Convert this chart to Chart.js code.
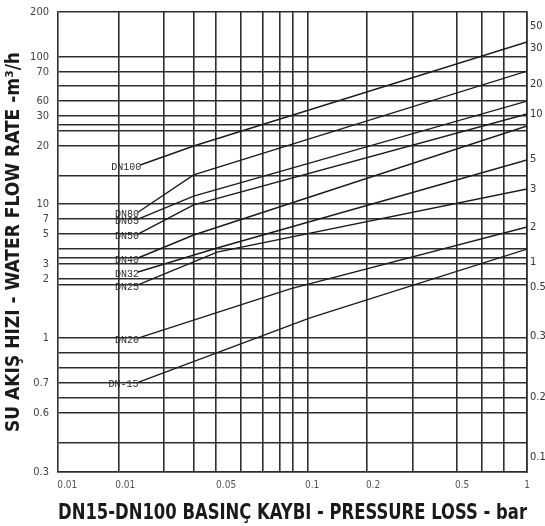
<!DOCTYPE html>
<html lang="tr">
<head>
<meta charset="UTF-8">
<title>DN15-DN100 Pressure Loss</title>
<script src="https://cdn.jsdelivr.net/npm/chart.js"></script>
<style>
    body { margin: 0; background: #fff; }
    canvas { display: block; }
</style>
</head>
<body>
<canvas id="chart" width="545" height="526"></canvas>
<script>
    // pipe sizes, one line each
    const lineNames = ['DN100', 'DN80', 'DN65', 'DN50', 'DN40', 'DN32', 'DN25', 'DN20', 'DN-15'];

    // pressure loss (bar) at start, bend, end of each line
    const pressureLoss = [
        [0.0171, 0.030, 1],
        [0.0167, 0.030, 1],
        [0.0167, 0.030, 1],
        [0.0167, 0.030, 1],
        [0.0167, 0.030, 1],
        [0.0167, 0.0384, 1],
        [0.0167, 0.0384, 1],
        [0.0167, 0.0828, 1],
        [0.0166, 0.1021, 1]
    ];

    // flow rate (m3/h) for the same points
    const flowRate = [
        [23.0, 30.1, 130.8],
        [11.8, 20.0, 86.8],
        [10.7, 14.8, 56.8],
        [8.67, 13.1, 47.3],
        [6.18, 8.55, 39.9],
        [5.07, 7.12, 24.7],
        [4.22, 6.72, 16.4],
        [1.99, 3.99, 9.57],
        [1.06, 2.65, 7.01]
    ];

    // grid lines as drawn on the sheet
    const xGridVals = [0.0136, 0.0218, 0.030, 0.038, 0.049, 0.062, 0.074, 0.085, 0.1, 0.186, 0.30, 0.48, 0.62, 0.785, 1];
    const yGridVals = [200, 105.8, 85.6, 70.3, 56.8, 46.0, 40.5, 37.2, 30.1, 19.7, 13.3, 10.7, 8.67, 7.02,
        6.18, 5.67, 4.59, 4.22, 1.99, 1.61, 1.30, 1.055, 0.854, 0.691, 0.452, 0.3];
    const yLeftText = ['200', '100', '70', '', '60', '30', '', '', '20', '', '10', '7', '5', '',
        '', '3', '2', '', '1', '', '', '0.7', '', '0.6', '', '0.3'];

    // bottom labels (they sit off the grid lines)
    const xTickVals = [0.00793, 0.0146, 0.0422, 0.1043, 0.198, 0.505, 1];
    const xTickText = ['0.01', '0.01', '0.05', '0.1', '0.2', '0.5', '1'];

    // right hand labels
    const yRightVals = [164.8, 120.2, 72.3, 47.3, 25.0, 16.4, 9.57, 5.84, 4.10, 2.05, 0.866, 0.371];
    const yRightText = ['50', '30', '20', '10', '5', '3', '2', '1', '0.5', '0.3', '0.2', '0.1'];

    const xMin = 0.0072, xMax = 1, yMin = 0.3, yMax = 200;
    const gridColor = '#2e2e2e';
    const narrow = "'Liberation Sans Narrow', 'DejaVu Sans Condensed', sans-serif";
    const tickFont = { family: narrow, size: 11 };

    const near = (a, b) => Math.abs(Math.log10(a) - Math.log10(b)) < 1e-4;

    const xAll = [...new Set([...xGridVals, ...xTickVals])].sort((a, b) => a - b);

    const datasets = lineNames.map((name, i) => ({
        label: name,
        data: pressureLoss[i].map((x, j) => ({ x: x, y: flowRate[i][j] })),
        borderColor: '#1b1b1b',
        borderWidth: 1.4,
        pointRadius: 0,
        tension: 0,
        fill: false
    }));

    // DN names written at the left end of each line
    const dnLabels = {
        id: 'dnLabels',
        afterDatasetsDraw(chart) {
            const c = chart.ctx;
            c.save();
            c.font = "10px 'Liberation Mono', 'DejaVu Sans Mono', monospace";
            c.fillStyle = '#2a2a2a';
            c.textAlign = 'right';
            c.textBaseline = 'middle';
            chart.data.datasets.forEach((ds, i) => {
                const p = chart.getDatasetMeta(i).data[0];
                c.fillText(ds.label, p.x + 1, p.y + 2);
            });
            c.restore();
        }
    };

    // keep the vertical axes from pushing the plot down
    const noPad = a => { a.paddingTop = 0; a.paddingBottom = 0; };

    new Chart(document.getElementById('chart'), {
        type: 'line',
        data: { datasets: datasets },
        options: {
            responsive: false,
            animation: false,
            devicePixelRatio: 1,
            layout: { padding: { top: 12 } },
            plugins: { legend: { display: false }, tooltip: { enabled: false } },
            scales: {
                x: {
                    type: 'logarithmic',
                    min: xMin,
                    max: xMax,
                    afterBuildTicks: a => { a.ticks = xAll.map(v => ({ value: v })); },
                    afterFit: a => { a.height = 54; },
                    grid: {
                        color: c => (c.tick && xGridVals.some(v => near(v, c.tick.value))) ? gridColor : 'rgba(0,0,0,0)',
                        lineWidth: 1.6,
                        drawTicks: false
                    },
                    border: { display: true, color: gridColor, width: 1.6 },
                    ticks: {
                        autoSkip: false,
                        maxRotation: 0,
                        padding: 7,
                        color: '#555',
                        font: { family: narrow, size: 10 },
                        callback: v => {
                            const k = xTickVals.findIndex(t => near(t, v));
                            return k < 0 ? '' : xTickText[k];
                        }
                    },
                    title: {
                        display: true,
                        text: 'DN15-DN100 BASINÇ KAYBI - PRESSURE LOSS - bar',
                        color: '#1a1a1a',
                        font: { family: narrow, size: 21, weight: 'bold' },
                        padding: { top: 5, bottom: 0 }
                    }
                },
                y: {
                    type: 'logarithmic',
                    position: 'left',
                    min: yMin,
                    max: yMax,
                    afterBuildTicks: a => { a.ticks = yGridVals.map(v => ({ value: v })); },
                    afterFit: a => { a.width = 58; noPad(a); },
                    grid: { color: gridColor, lineWidth: 1.6, drawTicks: false },
                    border: { display: true, color: gridColor, width: 1.6 },
                    ticks: {
                        autoSkip: false,
                        padding: 9,
                        color: '#444',
                        font: tickFont,
                        callback: v => {
                            const k = yGridVals.findIndex(t => near(t, v));
                            return k < 0 ? '' : yLeftText[k];
                        }
                    },
                    title: {
                        display: true,
                        text: 'SU AKIŞ HIZI - WATER FLOW RATE -m³/h',
                        color: '#1a1a1a',
                        font: { family: narrow, size: 19, weight: 'bold' },
                        padding: { top: 3, bottom: 0 }
                    }
                },
                y2: {
                    type: 'logarithmic',
                    position: 'right',
                    min: yMin,
                    max: yMax,
                    afterBuildTicks: a => { a.ticks = yRightVals.map(v => ({ value: v })); },
                    afterFit: a => { a.width = 18; noPad(a); },
                    grid: { display: false, drawTicks: false },
                    border: { display: true, color: gridColor, width: 1.6 },
                    ticks: {
                        autoSkip: false,
                        padding: 3,
                        color: '#333',
                        font: tickFont,
                        callback: v => {
                            const k = yRightVals.findIndex(t => near(t, v));
                            return k < 0 ? '' : yRightText[k];
                        }
                    }
                }
            }
        },
        plugins: [dnLabels]
    });
</script>
</body>
</html>
